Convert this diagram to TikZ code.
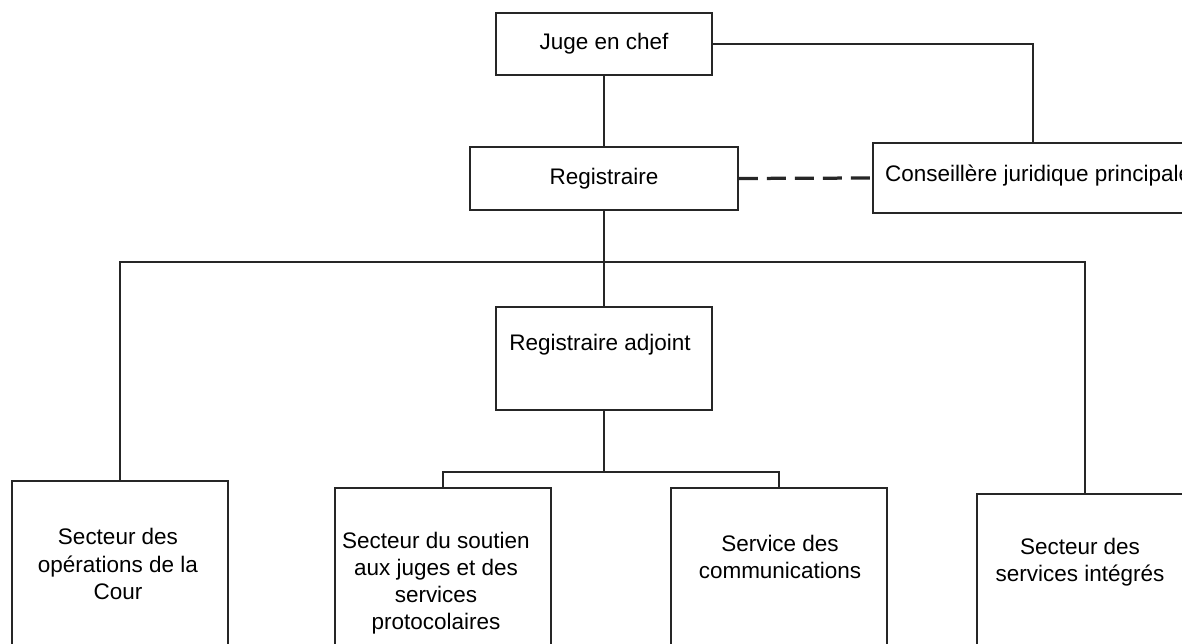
\documentclass[tikz,border=0pt]{standalone}
\usepackage{fontspec}
\setmainfont{Liberation Sans}

\tikzset{
    box/.style={draw=black!85, rectangle, minimum width=4.32cm, font=\fontsize{12.8}{15.4}\selectfont},
    txt/.style={align=center, inner sep=0pt, font=\fontsize{12.8}{15.4}\selectfont},
    lien/.style={draw=black!85, line width=0.05cm}
}

\begin{document}
\begin{tikzpicture}[x=0.02cm, y=-0.02cm, line width=0.04cm]
    \useasboundingbox (0,0) rectangle (1182,644);
    \clip (0,0) rectangle (1182,644);

    \node[box, minimum height=1.24cm] (juge) at (604,44) {Juge en chef};
    \node[box, minimum width=5.36cm, minimum height=1.26cm] (reg) at (604,178.5) {Registraire};
    \node[box, minimum width=6.4cm, minimum height=1.4cm] (cons) at (1033,178) {};
    \node[txt, anchor=west] (tcons) at (884,176) {Conseillère juridique principale};
    \node[box, minimum height=2.06cm] (adj) at (604,358.5) {};
    \node[txt] (tadj) at (600,345) {Registraire adjoint};

    \node[box, minimum height=4cm, anchor=north] (cour) at (120,480) {};
    \node[box, minimum height=4cm, anchor=north] (soutien) at (443,487) {};
    \node[box, minimum height=4cm, anchor=north] (comm) at (779,487) {};
    \node[box, minimum height=4cm, anchor=north] (integ) at (1085,493) {};
    \node[txt] (tcour) at (118,564) {Secteur des\\opérations de la\\Cour};
    \node[txt] (tsoutien) at (436,583) {Secteur du soutien\\aux juges et des\\services\\protocolaires};
    \node[txt] (tcomm) at (780,557) {Service des\\communications};
    \node[txt] (tinteg) at (1080,562) {Secteur des\\services intégrés};

    \coordinate (bus) at (604,262);
    \coordinate (bus2) at (604,472);

    \draw[lien] (juge.south) -- (reg.north);
    \draw[lien] (juge.east) -| (cons.north);
    \draw[lien, line width=0.065cm, dash pattern=on 0.38cm off 0.18cm] (reg.east) -- (cons.west);
    \draw[lien] (reg.south) -- (adj.north);
    \draw[lien] (cour.north) |- (bus) -| (integ.north);
    \draw[lien] (adj.south) -- (bus2);
    \draw[lien] (soutien.north) |- (bus2) -| (comm.north);
\end{tikzpicture}
\end{document}
